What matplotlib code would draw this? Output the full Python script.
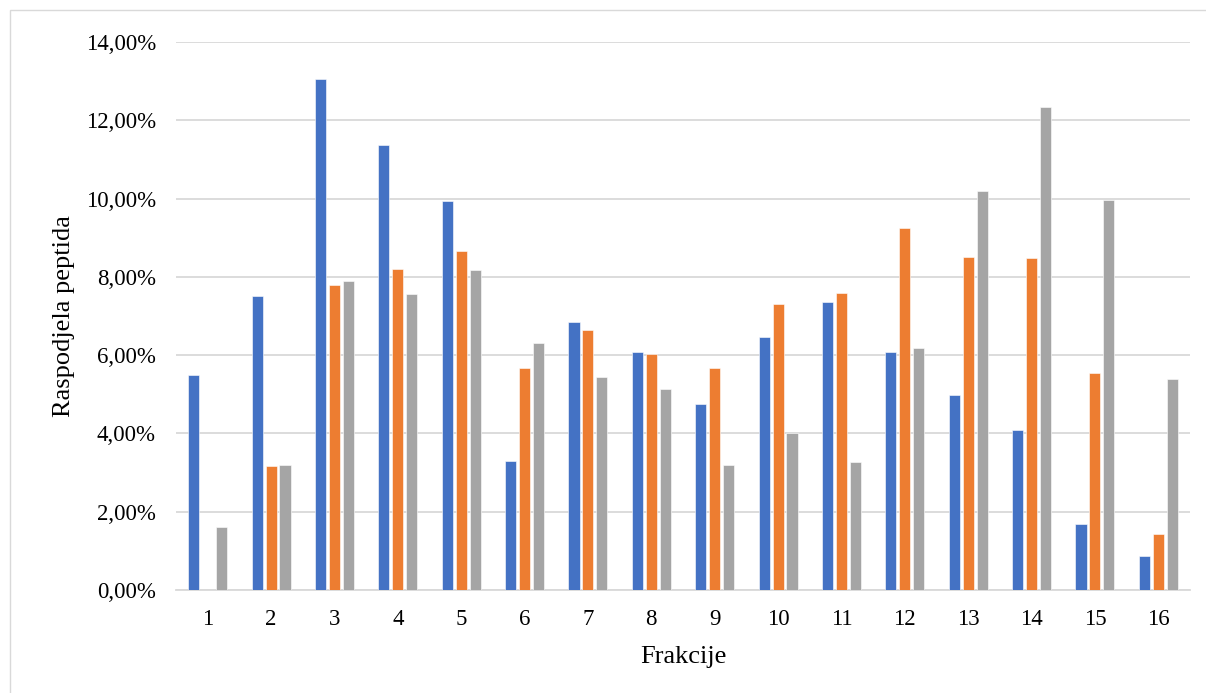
import numpy as np
import matplotlib
matplotlib.use("Agg")
import matplotlib.pyplot as plt
from matplotlib.patches import Rectangle
from matplotlib.ticker import FuncFormatter

fractions = [str(i) for i in range(1, 17)]
series_a = [5.49, 7.52, 13.05, 11.38, 9.93, 3.29, 6.84, 6.09, 4.75, 6.46, 7.36, 6.08, 4.98, 4.10, 1.69, 0.86]
series_b = [0.00, 3.17, 7.79, 8.19, 8.65, 5.67, 6.63, 6.04, 5.68, 7.30, 7.59, 9.25, 8.52, 8.48, 5.54, 1.42]
series_c = [1.62, 3.20, 7.90, 7.57, 8.17, 6.30, 5.45, 5.14, 3.20, 4.00, 3.27, 6.18, 10.20, 12.34, 9.96, 5.39]

colors = ["#4472C4", "#ED7D31", "#A5A5A5"]

plt.rcParams["font.family"] = ["Liberation Serif", "DejaVu Serif"]

W, H = 1206, 693
fig = plt.figure(figsize=(W / 100, H / 100), dpi=100)
ax = fig.add_axes([176 / W, 1 - 590 / H, (1190 - 176) / W, (590 - 42) / H])

x = np.arange(len(fractions))
width = 0.175
step = 0.22
for i, (vals, c) in enumerate(zip([series_a, series_b, series_c], colors)):
    ax.bar(x + (i - 1) * step, vals, width, color=c, edgecolor="white", linewidth=0.4, zorder=3)

ax.set_xlim(-0.5, len(fractions) - 0.5)
ax.set_ylim(0, 14)
ax.set_yticks(np.arange(0, 15, 2))
ax.yaxis.set_major_formatter(FuncFormatter(lambda v, p: f"{v:.2f}".replace(".", ",") + "%"))
ax.set_xticks(x)
ax.set_xticklabels(fractions)

ax.grid(axis="y", color="#D9D9D9", linewidth=1.3, zorder=0)
for s in ["top", "right", "left"]:
    ax.spines[s].set_visible(False)
ax.spines["bottom"].set_color("#D9D9D9")
ax.spines["bottom"].set_linewidth(1.3)
ax.tick_params(axis="both", length=0, labelsize=16.5, colors="#000000")
ax.tick_params(axis="y", pad=14.5)
ax.tick_params(axis="x", pad=14)

fig.text(64 / W, 1 - 316 / H, "Raspodjela peptida", rotation=90, ha="center", va="center", fontsize=19)
fig.text(683 / W, 1 - 657 / H, "Frakcije", ha="center", va="center", fontsize=19)

fig.add_artist(Rectangle((10 / W, -0.1), 1.2, 1 - 10 / H + 0.1, transform=fig.transFigure,
                         fill=False, edgecolor="#D9D9D9", linewidth=1))

fig.savefig("out.png", dpi=100)
